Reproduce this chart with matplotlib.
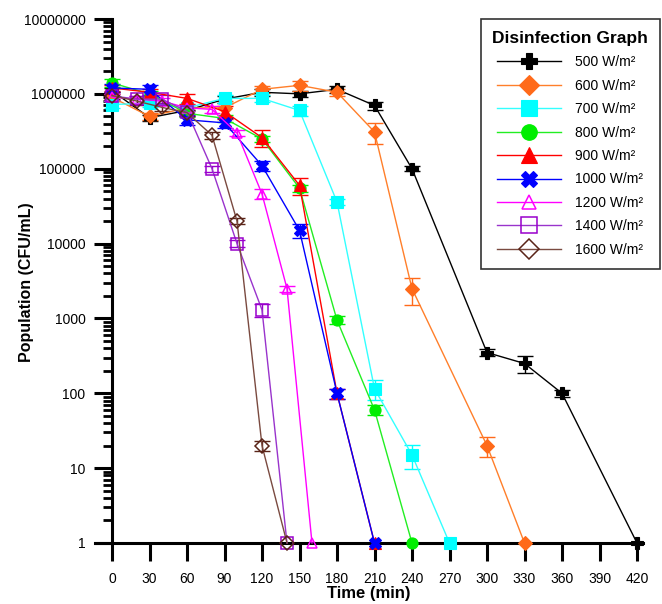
import numpy as np
import matplotlib
matplotlib.use("Agg")
import matplotlib.pyplot as plt
from matplotlib.ticker import FixedLocator, FuncFormatter, NullFormatter

plt.rcParams['font.family'] = ['Liberation Sans', 'DejaVu Sans']

# 读图得到的数据（时间 min，菌落 CFU/mL，相对误差）
labels = ['500 W/m²', '600 W/m²', '700 W/m²', '800 W/m²', '900 W/m²',
          '1000 W/m²', '1200 W/m²', '1400 W/m²', '1600 W/m²']

t500 = [0, 30, 60, 90, 120, 150, 180, 210, 240, 300, 330, 360, 420]
p500 = [1.1e6, 4.8e5, 6.0e5, 8.5e5, 1.05e6, 1.0e6, 1.15e6, 7.0e5, 1.0e5, 350, 250, 100, 1]
e500 = [0.1, 0.1, 0.1, 0.1, 0.1, 0.1, 0.12, 0.12, 0.08, 0.1, 0.25, 0.1, 0]

t600 = [0, 30, 60, 90, 120, 150, 180, 210, 240, 300, 330]
p600 = [9.0e5, 5.0e5, 6.5e5, 6.5e5, 1.15e6, 1.3e6, 1.05e6, 3.1e5, 2500, 20, 1]
e600 = [0.12, 0.1, 0.1, 0.25, 0.12, 0.15, 0.1, 0.3, 0.4, 0.3, 0]

t700 = [0, 30, 60, 90, 120, 150, 180, 210, 240, 270]
p700 = [7.2e5, 7.5e5, 6.5e5, 8.7e5, 8.7e5, 6.0e5, 3.6e4, 115, 15, 1]
e700 = [0.1, 0.1, 0.1, 0.12, 0.1, 0.15, 0.1, 0.3, 0.35, 0]

t800 = [0, 30, 60, 90, 120, 150, 180, 210, 240]
p800 = [1.4e6, 1.0e6, 5.5e5, 4.7e5, 2.5e5, 5.5e4, 950, 60, 1]
e800 = [0.12, 0.1, 0.1, 0.1, 0.1, 0.1, 0.12, 0.15, 0]

t900 = [0, 30, 60, 90, 120, 150, 180, 210]
p900 = [1.2e6, 1.05e6, 8.7e5, 5.8e5, 2.6e5, 6.0e4, 100, 1]
e900 = [0.1, 0.1, 0.15, 0.2, 0.25, 0.25, 0.15, 0]

t1000 = [0, 30, 60, 90, 120, 150, 180, 210]
p1000 = [1.2e6, 1.15e6, 4.5e5, 4.1e5, 1.1e5, 1.5e4, 100, 1]
e1000 = [0.12, 0.15, 0.15, 0.15, 0.15, 0.2, 0.15, 0]

t1200 = [0, 20, 40, 60, 80, 100, 120, 140, 160]
p1200 = [9.0e5, 8.5e5, 8.0e5, 6.5e5, 6.2e5, 3.0e5, 4.6e4, 2500, 1]
e1200 = [0.1, 0.1, 0.1, 0.1, 0.1, 0.1, 0.15, 0.1, 0]

t1400 = [0, 20, 40, 60, 80, 100, 120, 140]
p1400 = [9.4e5, 8.5e5, 8.5e5, 5.8e5, 1.0e5, 1.0e4, 1300, 1]
e1400 = [0.12, 0.1, 0.12, 0.12, 0.1, 0.1, 0.2, 0]

t1600 = [0, 20, 40, 60, 80, 100, 120, 140]
p1600 = [9.5e5, 8.0e5, 6.6e5, 5.6e5, 2.8e5, 2.0e4, 20, 1]
e1600 = [0.1, 0.1, 0.1, 0.1, 0.1, 0.1, 0.15, 0]

times = [t500, t600, t700, t800, t900, t1000, t1200, t1400, t1600]
pops = [p500, p600, p700, p800, p900, p1000, p1200, p1400, p1600]
errs = [e500, e600, e700, e800, e900, e1000, e1200, e1400, e1600]

colors = ['#000000', '#FF6A1A', '#00FFFF', '#00EE00', '#FF0000',
          '#0000FF', '#FF00FF', '#9900CC', '#5A2418']
line_colors = ['#000000', '#FF7F2A', '#33FFFF', '#22EE22', '#FF0000',
               '#0000FF', '#FF00FF', '#9933CC', '#7A4A40']
markers = ['P', 'D', 's', 'o', '^', 'X', '^', 's', 'D']
filled = [True, True, True, True, True, True, False, False, False]
msizes = [8, 7, 8.5, 8, 8, 8.5, 7, 8, 7]

fig = plt.figure(figsize=(6.62, 6.04), dpi=100)
x0, x1 = -14, 425
ax = fig.add_axes([(112 + x0 * 1.25) / 662, 1 - 543 / 604,
                   (x1 - x0) * 1.25 / 662, 524 / 604])

handles = []
for i in range(len(labels)):
    t = np.array(times[i])
    p = np.array(pops[i])
    e = np.array(errs[i]) * p
    mask = e > 0
    ax.errorbar(t[mask], p[mask], yerr=e[mask], fmt='none', ecolor=colors[i],
                elinewidth=1, capsize=6, capthick=1, zorder=2)
    if filled[i]:
        mfc = colors[i]
        mew = 0.8
    else:
        mfc = 'none'
        mew = 1.1
    ln, = ax.plot(t, p, color=line_colors[i], lw=1.0, marker=markers[i],
                  ms=msizes[i], mfc=mfc, mec=colors[i], mew=mew,
                  label=labels[i], zorder=3, clip_on=False)
    handles.append(ln)

ax.set_yscale('log')
ax.set_xlim(x0, x1)
ax.set_ylim(1, 1e7)

ax.spines['top'].set_visible(False)
ax.spines['right'].set_visible(False)
ax.spines['left'].set_position(('data', 0))
ax.spines['left'].set_linewidth(2.2)
ax.spines['bottom'].set_linewidth(2.2)

# 只保留坐标范围内的刻度
decades = 10.0 ** np.arange(0, 8)
minor_ticks = [d * k for d in decades[:-1] for k in range(2, 10)]
ax.xaxis.set_major_locator(FixedLocator(np.arange(0, 421, 30)))
ax.yaxis.set_major_locator(FixedLocator(decades))
ax.yaxis.set_minor_locator(FixedLocator(minor_ticks))
ax.yaxis.set_major_formatter(FuncFormatter(lambda v, pos: '%d' % round(v)))
ax.yaxis.set_minor_formatter(NullFormatter())
ax.tick_params(axis='x', which='major', direction='out', length=13, width=2.2,
               labelsize=10, pad=8)
ax.tick_params(axis='y', which='major', direction='out', length=13, width=2.2,
               labelsize=10, pad=6)
ax.tick_params(axis='y', which='minor', direction='out', length=6.5, width=2)

ax.set_xlabel('Time (min)', fontsize=12, fontweight='bold', labelpad=0)
ax.set_ylabel('Population (CFU/mL)', fontsize=11.5, fontweight='bold')
ax.yaxis.set_label_coords((36 - 97) / 549.0, (543 - 282) / 524)

leg = ax.legend(handles=handles, loc='upper right',
                bbox_to_anchor=(660 / 662, 1 - 19 / 604),
                bbox_transform=fig.transFigure, borderaxespad=0,
                fontsize=10, title='Disinfection Graph',
                title_fontproperties={'weight': 'bold', 'size': 12.5},
                markerscale=1.4, handlelength=4.6, labelspacing=0.68,
                fancybox=False, edgecolor='#333333', framealpha=1,
                borderpad=0.85, handletextpad=1.0)
leg.get_frame().set_linewidth(1.2)

fig.savefig('out.png', dpi=100)
